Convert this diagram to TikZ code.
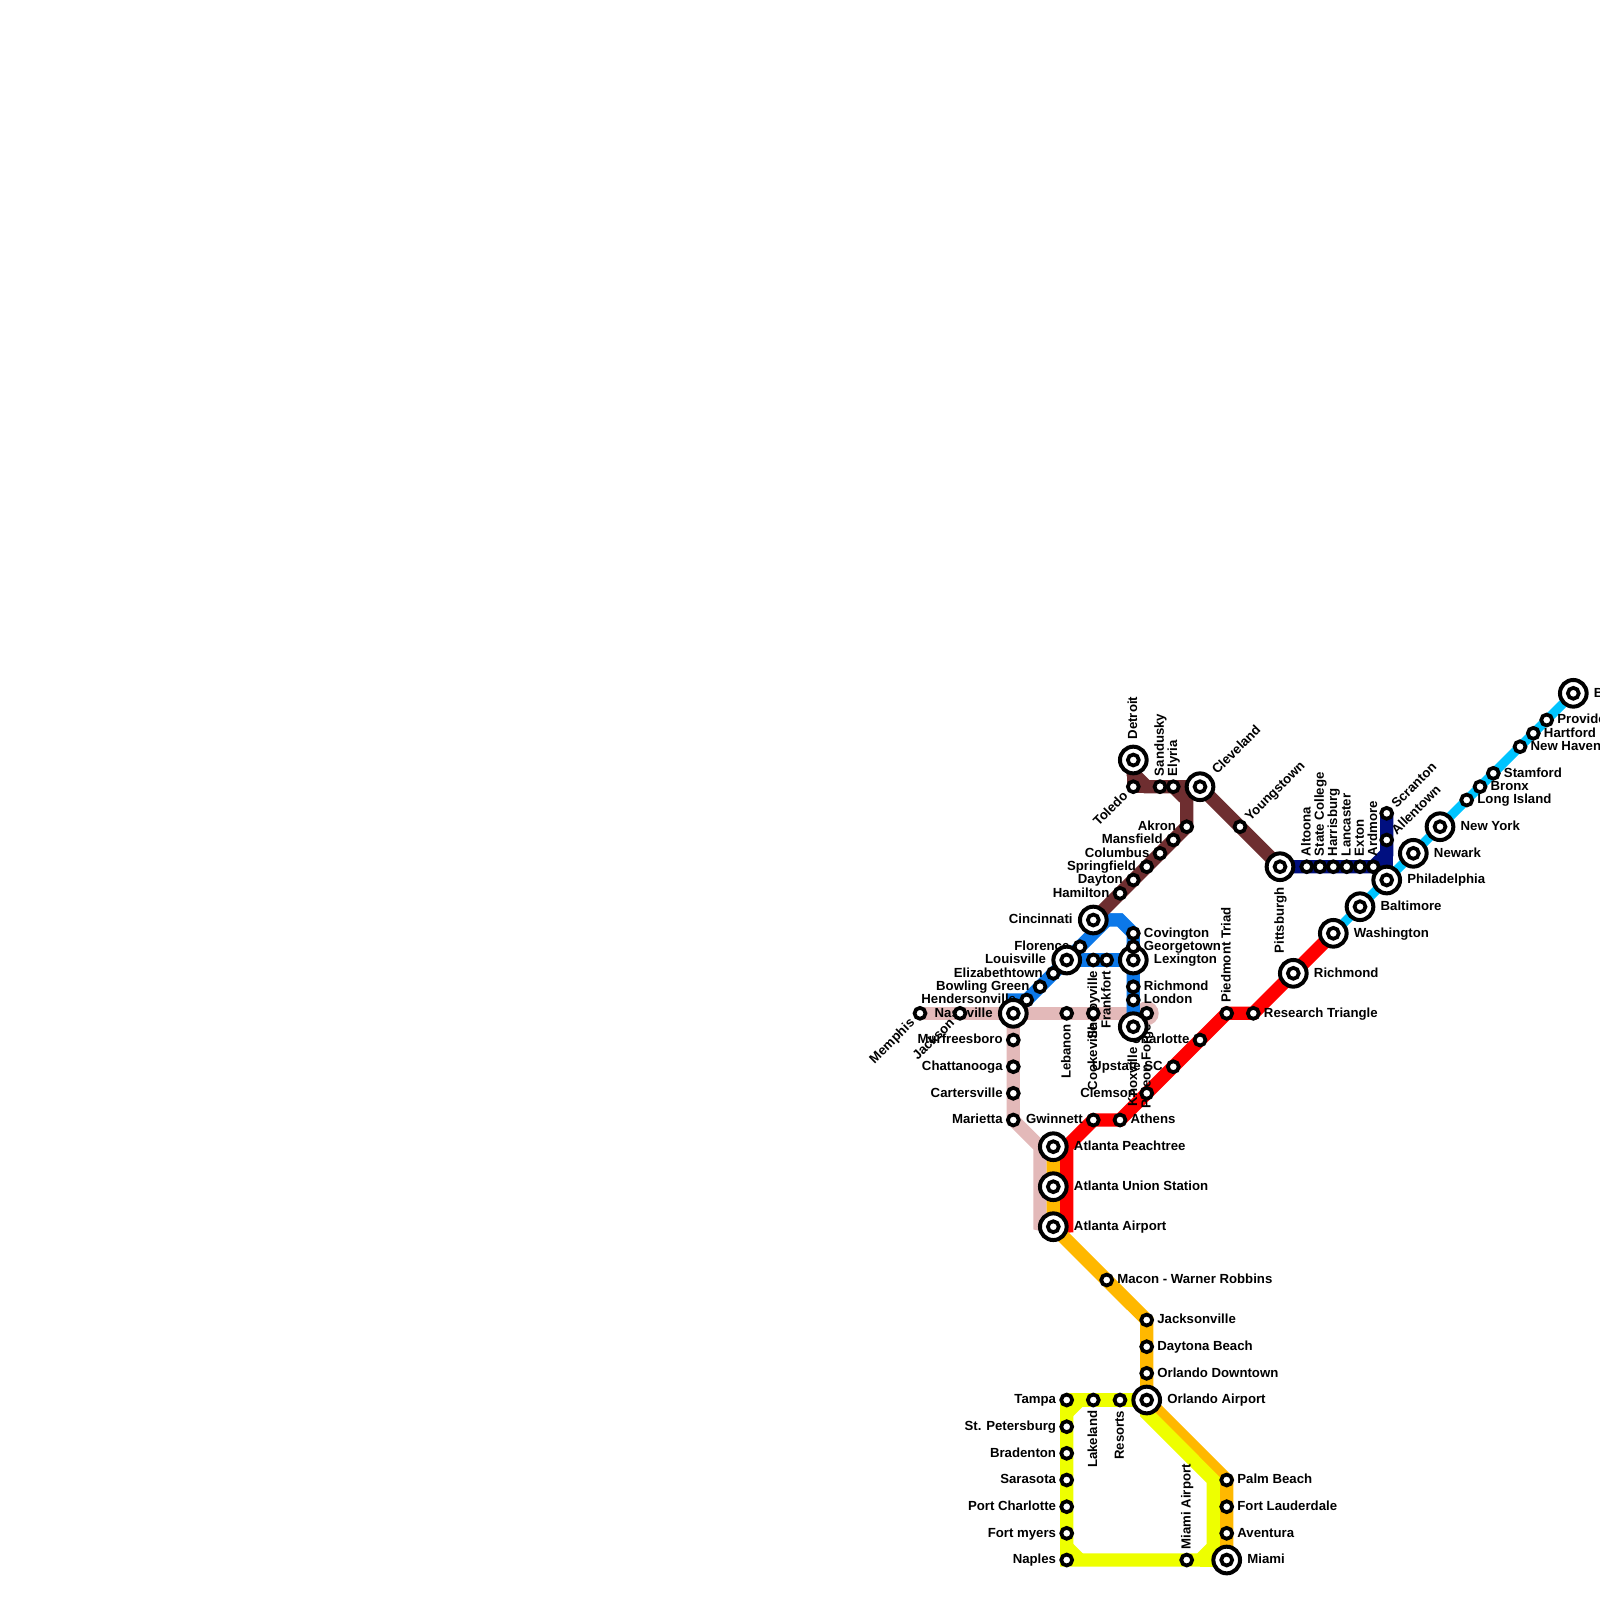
\documentclass[tikz,border=0pt]{standalone}
\usepackage{fontspec}
\setmainfont{Liberation Sans}
\pgfdeclarelayer{lines}
\pgfdeclarelayer{labels}
\pgfsetlayers{lines,labels,main}
\definecolor{cpink}{HTML}{E3B9B9}
\definecolor{cblue}{HTML}{0C78E8}
\definecolor{cbrown}{HTML}{6E2E30}
\definecolor{corange}{HTML}{FFB800}
\definecolor{cred}{HTML}{FF0000}
\definecolor{cyell}{HTML}{EEFF00}
\definecolor{ccyan}{HTML}{00C4FF}
\definecolor{cnavy}{HTML}{000F80}
\tikzset{
  rt/.style={line width=10pt,draw=#1},
  stsmall/.style={circle,draw=black,fill=white,line width=2.8pt,inner sep=0pt,outer sep=0pt,minimum size=8.2pt},
  stbig/.style={circle,draw=black,fill=white,line width=3pt,inner sep=0pt,outer sep=0pt,minimum size=20pt,
    path picture={\draw[black,line width=2.8pt] (path picture bounding box.center) circle (4.1pt);}},
  lab/.style={font=\fontsize{9.9pt}{10pt}\selectfont\bfseries,text=black,inner sep=0pt,outer sep=0pt,text height=7.1pt,text depth=1.3pt},
  sideR/.style={lab,shift={(0:#1)},anchor=west},
  sideL/.style={lab,shift={(180:#1)},anchor=east},
  sideU/.style={lab,shift={(90:#1)},rotate=90,anchor=west},
  sideD/.style={lab,shift={(270:#1)},rotate=90,anchor=east},
  sideE/.style={lab,shift={(45:#1)},rotate=45,anchor=west},
  sideW/.style={lab,shift={(225:#1)},rotate=45,anchor=east},
}
\newcommand{\st}[5]{\node[stsmall] (#1) at (#2,#3) {};\begin{pgfonlayer}{labels}\node[side#5=8pt] (#1-t) at (#1.center) {#4};\end{pgfonlayer}}
\newcommand{\bst}[5]{\node[stbig] (#1) at (#2,#3) {};\begin{pgfonlayer}{labels}\node[side#5=15.5pt] (#1-t) at (#1.center) {#4};\end{pgfonlayer}}
\begin{document}
\begin{tikzpicture}[x=0.75pt,y=-0.75pt]
\useasboundingbox (0,0) rectangle (1600,1600);
% stations
\st{memphis}{920}{1013.3}{Memphis}{W}
\st{jackson}{960}{1013.3}{Jackson}{W}
\bst{nashville}{1013.3}{1013.3}{Nashville}{L}
\st{lebanon}{1066.7}{1013.3}{Lebanon}{D}
\st{cookeville}{1093.3}{1013.3}{Cookeville}{D}
\st{pigeon}{1146.7}{1013.3}{Pigeon Forge}{D}
\bst{knoxville}{1133.3}{1026.7}{Knoxville}{D}
\st{murfreesboro}{1013.3}{1040}{Murfreesboro}{L}
\st{chattanooga}{1013.3}{1066.7}{Chattanooga}{L}
\st{cartersville}{1013.3}{1093.3}{Cartersville}{L}
\st{marietta}{1013.3}{1120}{Marietta}{L}
\st{hendersonville}{1026.7}{1000}{Hendersonville}{L}
\st{bowling}{1040}{986.7}{Bowling Green}{L}
\st{elizabethtown}{1053.3}{973.3}{Elizabethtown}{L}
\bst{louisville}{1066.7}{960}{Louisville}{L}
\st{florence}{1080}{946.7}{Florence}{L}
\bst{cincinnati}{1093.3}{920}{Cincinnati}{L}
\st{shelbyville}{1093.3}{960}{Shelbyville}{D}
\st{frankfort}{1106.7}{960}{Frankfort}{D}
\bst{lexington}{1133.3}{960}{Lexington}{R}
\st{covington}{1133.3}{933.3}{Covington}{R}
\st{georgetown}{1133.3}{946.7}{Georgetown}{R}
\st{richmondky}{1133.3}{986.7}{Richmond}{R}
\st{london}{1133.3}{1000}{London}{R}
\st{hamilton}{1120}{893.3}{Hamilton}{L}
\st{dayton}{1133.3}{880}{Dayton}{L}
\st{springfield}{1146.7}{866.7}{Springfield}{L}
\st{columbus}{1160}{853.3}{Columbus}{L}
\st{mansfield}{1173.3}{840}{Mansfield}{L}
\st{akron}{1186.7}{826.7}{Akron}{L}
\bst{detroit}{1133.3}{760}{Detroit}{U}
\st{toledo}{1133.3}{786.7}{Toledo}{W}
\st{sandusky}{1160}{786.7}{Sandusky}{U}
\st{elyria}{1173.3}{786.7}{Elyria}{U}
\bst{cleveland}{1200}{786.7}{Cleveland}{E}
\st{youngstown}{1240}{826.7}{Youngstown}{E}
\bst{pittsburgh}{1280}{866.7}{Pittsburgh}{D}
\st{altoona}{1306.7}{866.7}{Altoona}{U}
\st{statecollege}{1320}{866.7}{State College}{U}
\st{harrisburg}{1333.3}{866.7}{Harrisburg}{U}
\st{lancaster}{1346.7}{866.7}{Lancaster}{U}
\st{exton}{1360}{866.7}{Exton}{U}
\st{ardmore}{1373.3}{866.7}{Ardmore}{U}
\st{scranton}{1386.7}{813.3}{Scranton}{E}
\st{allentown}{1386.7}{840}{Allentown}{E}
\bst{philadelphia}{1386.7}{880}{Philadelphia}{R}
\bst{newark}{1413.3}{853.3}{Newark}{R}
\bst{newyork}{1440}{826.7}{New York}{R}
\st{longisland}{1466.7}{800}{Long Island}{R}
\st{bronx}{1480}{786.7}{Bronx}{R}
\st{stamford}{1493.3}{773.3}{Stamford}{R}
\st{newhaven}{1520}{746.7}{New Haven}{R}
\st{hartford}{1533.3}{733.3}{Hartford}{R}
\st{providence}{1546.7}{720}{Providence}{R}
\bst{boston}{1573.3}{693.3}{Boston}{R}
\bst{baltimore}{1360}{906.7}{Baltimore}{R}
\bst{washington}{1333.3}{933.3}{Washington}{R}
\bst{richmondva}{1293.3}{973.3}{Richmond}{R}
\st{research}{1253.3}{1013.3}{Research Triangle}{R}
\st{piedmont}{1226.7}{1013.3}{Piedmont Triad}{U}
\st{charlotte}{1200}{1040}{Charlotte}{L}
\st{upstate}{1173.3}{1066.7}{Upstate SC}{L}
\st{clemson}{1146.7}{1093.3}{Clemson}{L}
\st{athens}{1120}{1120}{Athens}{R}
\st{gwinnett}{1093.3}{1120}{Gwinnett}{L}
\bst{peachtree}{1053.3}{1146.7}{Atlanta Peachtree}{R}
\bst{union}{1053.3}{1186.7}{Atlanta Union Station}{R}
\bst{airport}{1053.3}{1226.7}{Atlanta Airport}{R}
\st{macon}{1106.7}{1280}{Macon - Warner Robbins}{R}
\st{jacksonville}{1146.7}{1320}{Jacksonville}{R}
\st{daytona}{1146.7}{1346.7}{Daytona Beach}{R}
\st{orlandod}{1146.7}{1373.3}{Orlando Downtown}{R}
\bst{orlandoa}{1146.7}{1400}{Orlando Airport}{R}
\st{palm}{1226.7}{1480}{Palm Beach}{R}
\st{lauderdale}{1226.7}{1506.7}{Fort Lauderdale}{R}
\st{aventura}{1226.7}{1533.3}{Aventura}{R}
\bst{miami}{1226.7}{1560}{Miami}{R}
\st{miamiair}{1186.7}{1560}{Miami Airport}{U}
\st{naples}{1066.7}{1560}{Naples}{L}
\st{fortmyers}{1066.7}{1533.3}{Fort myers}{L}
\st{portcharlotte}{1066.7}{1506.7}{Port Charlotte}{L}
\st{sarasota}{1066.7}{1480}{Sarasota}{L}
\st{bradenton}{1066.7}{1453.3}{Bradenton}{L}
\st{stpete}{1066.7}{1426.7}{St. Petersburg}{L}
\st{tampa}{1066.7}{1400}{Tampa}{L}
\st{lakeland}{1093.3}{1400}{Lakeland}{D}
\st{resorts}{1120}{1400}{Resorts}{D}
% waypoints
\coordinate (pA) at (1040,1146.7);
\coordinate (pB) at (1040,1224);
\coordinate (bA) at (1013.3,1000);
\coordinate (bB) at (1106.7,920);
\coordinate (bC) at (1120,920);
\coordinate (bD) at (1133.3,933.3);
\coordinate (rA) at (1066.7,1226);
\coordinate (rB) at (1066.7,1146.7);
\coordinate (rC) at (1093.3,1120);
\coordinate (rD) at (1226.7,1013.3);
\coordinate (oA) at (1146.7,1320);
\coordinate (oB) at (1226.7,1480);
\coordinate (yA) at (1146.7,1413.3);
\coordinate (yB) at (1213.3,1480);
\coordinate (yC) at (1213.3,1546.7);
\coordinate (yD) at (1200,1560);
\coordinate (yE) at (1080,1400);
\coordinate (yF) at (1066.7,1413.3);
\coordinate (yG) at (1066.7,1546.7);
\coordinate (yH) at (1080,1560);
\coordinate (kA) at (1186.7,800);
\coordinate (kB) at (1173.3,786.7);
\coordinate (kC) at (1133.3,773.3);
\coordinate (kD) at (1146.7,786.7);
\coordinate (nA) at (1386.7,853.3);
\begin{pgfonlayer}{lines}
% pink
\draw[rt=cpink] (memphis.center) -- (pigeon.center);
\fill[cpink] (pigeon.center) circle (9pt);
\draw[rt=cpink] (nashville.center) -- (marietta.center) -- (pA) -- (pB) -- (airport.center);
% red, then orange
\draw[rt=cred] (airport.center) -- (rA) -- (rB) -- (rC) -- (athens.center) -- (rD) -- (research.center) -- (washington.center);
\draw[rt=corange] (peachtree.center) -- (airport.center) -- (oA) -- (orlandoa.center) -- (oB) -- (miami.center);
% blue
\draw[rt=cblue] (nashville.center) -- (bA) -- (hendersonville.center) -- (bB) -- (cincinnati.center);
\draw[rt=cblue] (cincinnati.center) -- (bC) -- (bD) -- (knoxville.center);
\draw[rt=cblue] (louisville.center) -- (lexington.center);
% brown
\draw[rt=cbrown] (cincinnati.center) -- (akron.center) -- (kA) -- (kB) -- (cleveland.center);
\draw[rt=cbrown] (detroit.center) -- (kC) -- (kD) -- (cleveland.center) -- (pittsburgh.center);
\draw[rt=cbrown] (toledo.center) -- (kD);
\draw[rt=cbrown] (kC) -- (toledo.center);
% cyan
\draw[line width=7pt,draw=ccyan] (washington.center) -- (boston.center);
% navy
\draw[rt=cnavy] (pittsburgh.center) -- (ardmore.center) -- (nA) -- (scranton.center);
\draw[rt=cnavy] (nA) -- (philadelphia.center);
% yellow
\draw[rt=cyell] (tampa.center) -- (orlandoa.center);
\draw[rt=cyell] (tampa.center) -- (naples.center) -- (yD) -- (yC) -- (yB) -- (yA) -- (orlandoa.center);
\draw[rt=cyell] (yD) -- (miami.center);
\draw[rt=cyell] (yE) -- (yF);
\draw[rt=cyell] (yG) -- (yH);
\end{pgfonlayer}
\end{tikzpicture}
\end{document}
